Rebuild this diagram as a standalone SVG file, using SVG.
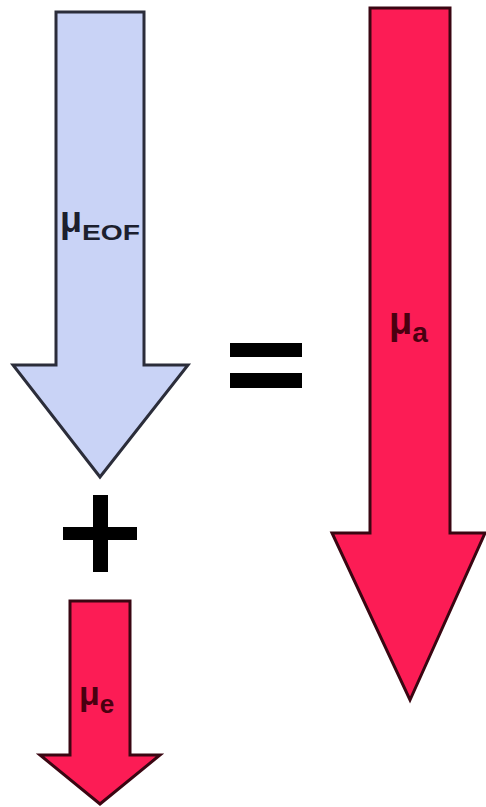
<svg xmlns="http://www.w3.org/2000/svg" width="486" height="807" viewBox="0 0 486 807">
<style>
.blue{fill:#c9d3f6;stroke:#2b2d3a;stroke-width:3;stroke-linejoin:miter}
.red{fill:#fc1c55;stroke:#3a0612;stroke-width:3;stroke-linejoin:miter}
.lbl{font-family:"Liberation Sans",Arial,sans-serif;font-weight:bold}
.bar{fill:#000}
</style>
<rect width="486" height="807" fill="#fff"/>
<g id="muEOF">
<polygon class="blue" points="56,12 144,12 144,365 188,365 100,477 13,365 56,365"/>
<text class="lbl" x="60" y="232" font-size="36" fill="#1c1f2e">μ<tspan font-size="22" dy="8" textLength="58" lengthAdjust="spacingAndGlyphs">EOF</tspan></text>
</g>
<g id="plus">
<rect class="bar" x="63" y="527" width="74" height="13"/>
<rect class="bar" x="93" y="495" width="15" height="77"/>
</g>
<g id="equals">
<rect class="bar" x="230" y="343" width="72" height="14"/>
<rect class="bar" x="230" y="373" width="72" height="15"/>
</g>
<g id="muA">
<polygon class="red" points="370,8 450,8 450,533 485,533 410,700 332,533 370,533"/>
<text class="lbl" x="389" y="334" font-size="38" fill="#4a0010">μ<tspan font-size="28" dy="8">a</tspan></text>
</g>
<g id="muE">
<polygon class="red" points="70,601 130,601 130,755 160,755 100,804 40,755 70,755"/>
<text class="lbl" x="79" y="705" font-size="34" fill="#4a0010">μ<tspan font-size="26" dy="8">e</tspan></text>
</g>
</svg>
